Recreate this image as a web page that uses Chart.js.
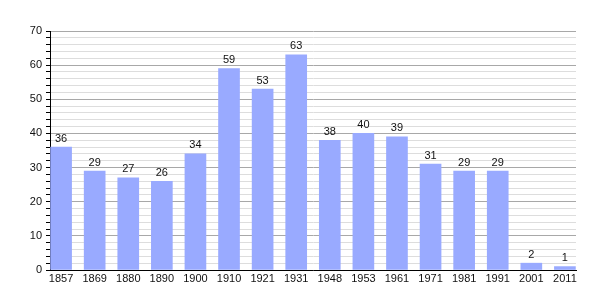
<!DOCTYPE html>
<html>
<head>
<meta charset="utf-8">
<script src="https://cdn.jsdelivr.net/npm/chart.js@4"></script>
<style>
  html, body { margin: 0; padding: 0; background: #fff; }
  #wrap { width: 605px; height: 300px; }
</style>
</head>
<body>
<div id="wrap"><canvas id="grafico"></canvas></div>
<script>
// Datos del gráfico
const anios = ['1857', '1869', '1880', '1890', '1900', '1910', '1921', '1931', '1948', '1953', '1961', '1971', '1981', '1991', '2001', '2011'];
const habitantes = [36, 29, 27, 26, 34, 59, 53, 63, 38, 40, 39, 31, 29, 29, 2, 1];
const ticksY = [0, 10, 20, 30, 40, 50, 60, 70];

const fuente = { family: 'Liberation Sans, Arial, sans-serif', size: 11 };

// Etiquetas de valor sobre cada barra
const etiquetas = {
  id: 'etiquetas',
  afterDatasetsDraw(chart) {
    const ctx = chart.ctx;
    const meta = chart.getDatasetMeta(0);
    ctx.save();
    ctx.font = '11px Liberation Sans, Arial, sans-serif';
    ctx.fillStyle = '#111';
    ctx.textAlign = 'center';
    ctx.textBaseline = 'bottom';
    meta.data.forEach((bar, i) => {
      ctx.fillText(habitantes[i], bar.x, bar.y - 3);
    });
    ctx.restore();
  }
};

const grafico = new Chart(document.getElementById('grafico'), {
  type: 'bar',
  data: {
    datasets: [{
      data: habitantes.map((v, i) => ({ x: i, y: v })),
      backgroundColor: '#99aaff',
      borderWidth: 0,
      barThickness: 21
    }]
  },
  options: {
    responsive: true,
    maintainAspectRatio: false,
    animation: false,
    layout: { padding: { top: 31, right: 29, left: 0, bottom: 0 } },
    plugins: {
      legend: { display: false },
      tooltip: { enabled: false }
    },
    scales: {
      x: {
        type: 'linear',
        offset: false,
        min: -0.33,
        max: 15.33,
        afterBuildTicks(scale) {
          scale.ticks = anios.map((a, i) => ({ value: i }));
        },
        afterFit(scale) { scale.height = 30; },
        ticks: {
          autoSkip: false,
          maxRotation: 0,
          padding: 2,
          color: '#111',
          font: fuente,
          callback: (v) => anios[v]
        },
        grid: { display: false, drawTicks: false },
        border: { display: true, color: '#000', width: 1 }
      },
      y: {
        min: 0,
        max: 70,
        afterFit(scale) { scale.width = 50; },
        ticks: {
          stepSize: 2,
          autoSkip: false,
          padding: 4,
          color: '#111',
          font: fuente,
          callback: (v) => (ticksY.includes(v) ? v : '')
        },
        grid: {
          color: (c) => (c.tick && c.tick.value % 10 === 0 ? '#a8a8a8' : '#dddddd'),
          tickColor: '#000',
          tickLength: 4
        },
        border: { display: true, color: '#000', width: 1 }
      }
    }
  },
  plugins: [etiquetas]
});
</script>
</body>
</html>
